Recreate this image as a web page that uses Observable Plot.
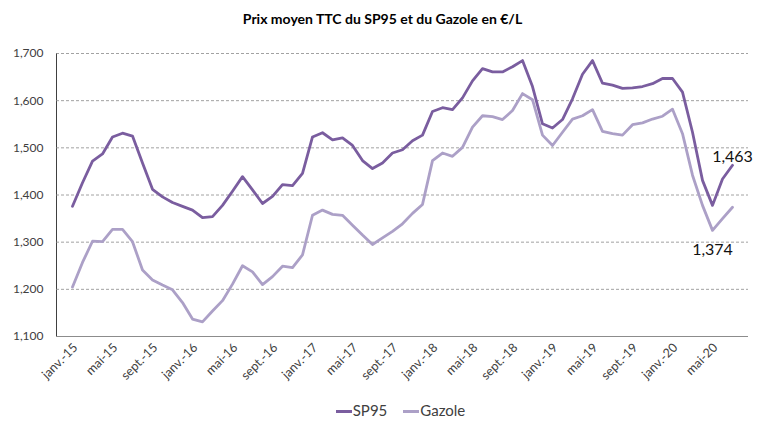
<!DOCTYPE html>
<html><head><meta charset="utf-8">
<script src="https://cdn.jsdelivr.net/npm/d3@7"></script>
<script src="https://cdn.jsdelivr.net/npm/@observablehq/plot@0.6"></script>
<style>
body{margin:0;background:#fff;font-family:Lato,"Open Sans",sans-serif;}
#wrap{width:765px;height:421px;position:relative;overflow:hidden;background:#fff}
#title{height:40px;line-height:37px;text-align:center;font-weight:bold;font-size:14px;color:#000}
#chart svg{display:block}
#legend{position:absolute;top:400px;left:18px;width:765px;text-align:center;font-size:15px;color:#404040;line-height:20px}
.item{display:inline-block;margin:0 8px}
.sw{display:inline-block;width:16px;height:3px;vertical-align:middle;margin-right:1px;position:relative;top:-1px}
</style></head><body>
<div id="wrap"><div id="title">Prix moyen TTC du SP95 et du Gazole en €/L</div><div id="chart"></div><div id="legend"></div></div>
<script>
const monthNames = ["janv.","févr.","mars","avr.","mai","juin","juil.","août","sept.","oct.","nov.","déc."];
const sp95 = [1376,1426,1472,1487,1523,1531,1525,1468,1412,1396,1384,1376,
  1368,1352,1354,1378,1408,1439,1411,1382,1397,1422,1420,1446,
  1523,1532,1517,1521,1505,1473,1456,1468,1489,1496,1515,1527,
  1577,1585,1581,1606,1642,1668,1661,1661,1672,1685,1630,1551,
  1542,1560,1604,1656,1685,1637,1633,1626,1627,1630,1636,1647,
  1647,1618,1533,1431,1378,1434,1463];
const gazole = [1205,1257,1302,1301,1327,1327,1301,1241,1220,1209,1199,1172,
  1137,1131,1154,1176,1211,1250,1237,1210,1227,1249,1246,1273,
  1357,1368,1359,1357,1336,1315,1295,1309,1323,1339,1361,1380,
  1473,1489,1482,1501,1544,1568,1566,1560,1579,1615,1602,1527,
  1505,1533,1561,1568,1581,1535,1530,1527,1549,1553,1561,1567,
  1582,1530,1442,1378,1325,1350,1374];
const tickLabels = ["janv.-15","mai-15","sept.-15","janv.-16","mai-16","sept.-16","janv.-17","mai-17","sept.-17","janv.-18","mai-18","sept.-18","janv.-19","mai-19","sept.-19","janv.-20","mai-20"];
const yTicks = [1100,1200,1300,1400,1500,1600,1700];
const seriesNames = ["SP95","Gazole"];
const colors = ["#7a5d9f","#aca0c7"];

const categories = sp95.map((_, i) => `${monthNames[i % 12]}-${15 + Math.floor(i / 12)}`);
const data = [
  ...sp95.map((v, i) => ({cat: categories[i], value: v, series: "SP95"})),
  ...gazole.map((v, i) => ({cat: categories[i], value: v, series: "Gazole"}))
];
const lastCat = categories[categories.length - 1];
const fmt = d3.format(",");

const chart = Plot.plot({
  width: 765, height: 360,
  marginTop: 13, marginBottom: 64, marginLeft: 56, marginRight: 17,
  style: {fontFamily: "Lato, 'Open Sans', sans-serif", fontSize: "12px", color: "#404040", background: "white"},
  x: {type: "point", domain: categories, padding: 0.5, axis: null},
  y: {domain: [1100, 1700], label: null, ticks: yTicks, tickFormat: fmt, tickSize: 0, tickPadding: 13, line: true},
  color: {domain: seriesNames, range: colors},
  marks: [
    Plot.gridY(yTicks.slice(1), {stroke: "#8a8a8a", strokeOpacity: 1, strokeDasharray: "3,2", strokeWidth: 0.8}),
    Plot.ruleY([1100], {stroke: "#8c8c8c", strokeWidth: 1}),
    Plot.text(tickLabels, {x: d => d, y: () => 1100, text: d => d, rotate: -45, textAnchor: "end", dx: 3, dy: 9, fontSize: 12.5, fill: "#404040"}),
    Plot.line(data, {x: "cat", y: "value", z: "series", stroke: "series", strokeWidth: 2.8, strokeLinejoin: "round"}),
    Plot.text([{cat: lastCat, value: sp95[sp95.length - 1]}], {x: "cat", y: "value", text: d => fmt(d.value), dy: -8, fontSize: 16, fill: "#111"}),
    Plot.text([{cat: lastCat, value: gazole[gazole.length - 1]}], {x: "cat", y: "value", text: d => fmt(d.value), dx: -20, dy: 43, fontSize: 16, fill: "#111"})
  ]
});
document.getElementById("chart").appendChild(chart);
chart.querySelectorAll("[aria-label='y-axis line'], [aria-label='y-axis'] path").forEach(e => e.setAttribute("stroke", "#8c8c8c"));

const leg = document.getElementById("legend");
seriesNames.forEach((n, i) => {
  const s = document.createElement("span");
  s.className = "item";
  s.innerHTML = `<span class="sw" style="background:${colors[i]}"></span>${n}`;
  leg.appendChild(s);
});
</script>
</body></html>
